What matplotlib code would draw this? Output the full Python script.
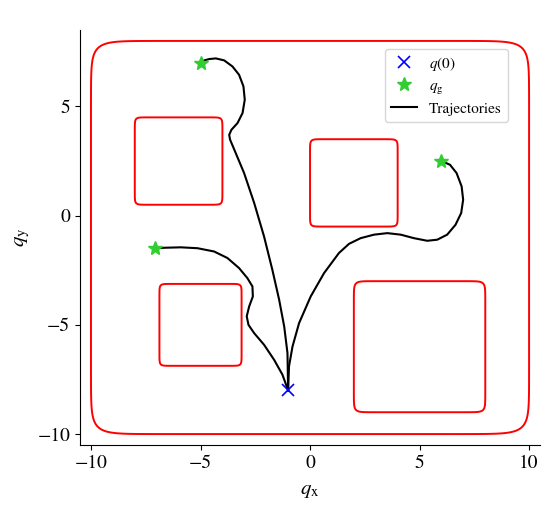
import numpy as np
import matplotlib
matplotlib.use("Agg")
import matplotlib.pyplot as plt

plt.rcParams["font.family"] = ["STIXGeneral", "Liberation Serif", "DejaVu Serif"]
plt.rcParams["mathtext.fontset"] = "stix"
plt.rcParams["axes.unicode_minus"] = True

# --- environment: rounded boxes (center x, center y, half width, half height) ---
box_cx = [0.0, -6.0, 2.0, -5.0, 5.0]
box_cy = [-1.0, 2.5, 1.5, -5.0, -6.0]
box_hw = [10.0, 2.0, 2.0, 1.875, 3.0]
box_hh = [9.0, 2.0, 2.0, 1.875, 3.0]

# --- start and goals ---
start = (-1.0, -8.0)
goals_x = [-5.0, 6.0, -7.1]
goals_y = [7.0, 2.5, -1.5]

# --- trajectories ---
traj1_x = [-1.00, -1.03, -1.18, -1.41, -1.72, -2.10, -2.55, -3.01, -3.39, -3.65,
           -3.69, -3.59, -3.31, -3.08, -2.98, -3.04, -3.24, -3.54, -3.92, -4.30,
           -4.60, -4.83, -5.00]
traj1_y = [-8.00, -6.29, -5.07, -3.85, -2.48, -0.95, 0.58, 1.95, 2.86, 3.48,
           3.70, 3.93, 4.24, 4.70, 5.31, 5.92, 6.45, 6.83, 7.11, 7.20,
           7.17, 7.11, 7.00]

traj2_x = [-1.00, -0.96, -0.80, -0.50, 0.03, 0.64, 1.32, 1.78, 2.31, 2.92,
           3.53, 4.14, 4.74, 5.35, 5.81, 6.26, 6.64, 6.90, 6.99, 6.92,
           6.69, 6.39, 6.00]
traj2_y = [-8.00, -6.90, -5.99, -4.92, -3.70, -2.63, -1.71, -1.29, -1.03, -0.87,
           -0.80, -0.87, -1.03, -1.15, -1.10, -0.87, -0.42, 0.12, 0.73, 1.34,
           1.95, 2.33, 2.50]

traj3_x = [-1.00, -1.26, -1.64, -2.10, -2.55, -2.81, -2.89, -2.78, -2.61, -2.63,
           -2.86, -3.24, -3.77, -4.38, -5.14, -5.90, -6.66, -7.10]
traj3_y = [-8.00, -7.28, -6.60, -5.91, -5.38, -5.00, -4.61, -4.16, -3.70, -3.24,
           -2.86, -2.40, -1.94, -1.64, -1.49, -1.45, -1.47, -1.50]

fig = plt.figure(figsize=(5.5, 5.21), dpi=100)
ax = fig.add_axes([0.1455, 0.1459, 0.8364, 0.7965])

# superellipse outline for each box (polar form), drawn as closed polygons
th = np.linspace(0, 2 * np.pi, 1000, endpoint=False)
p = 20
r = (np.abs(np.cos(th)) ** p + np.abs(np.sin(th)) ** p) ** (-1 / p)
for cx, cy, hw, hh in zip(box_cx, box_cy, box_hw, box_hh):
    ax.fill(cx + hw * r * np.cos(th), cy + hh * r * np.sin(th),
            fill=False, edgecolor="red", lw=1.4)

ax.plot(traj1_x, traj1_y, color="black", lw=1.5, label="Trajectories")
ax.plot(traj2_x, traj2_y, color="black", lw=1.5)
ax.plot(traj3_x, traj3_y, color="black", lw=1.5)

ax.plot(start[0], start[1], "x", color="blue", ms=8, mew=1.2, label=r"$q(0)$", zorder=5)
ax.plot(goals_x, goals_y, "*", color="limegreen", ms=10, ls="none", label=r"$q_\mathrm{g}$", zorder=5)

ax.set_xlim(-10.5, 10.5)
ax.set_ylim(-10.5, 8.5)
ax.set_xticks([-10, -5, 0, 5, 10])
ax.set_yticks([-10, -5, 0, 5])
ax.tick_params(labelsize=14)
ax.set_xlabel(r"$q_\mathrm{x}$", fontsize=15, labelpad=6)
ax.set_ylabel(r"$q_\mathrm{y}$", fontsize=15)
ax.spines["top"].set_visible(False)
ax.spines["right"].set_visible(False)

h, l = ax.get_legend_handles_labels()
order = [1, 2, 0]
ax.legend([h[i] for i in order], [l[i] for i in order], loc="upper right",
          bbox_to_anchor=(0.93, 0.955), borderaxespad=0, fontsize=11,
          labelspacing=0.4, handlelength=1.7)

fig.savefig("out.png", dpi=100)
